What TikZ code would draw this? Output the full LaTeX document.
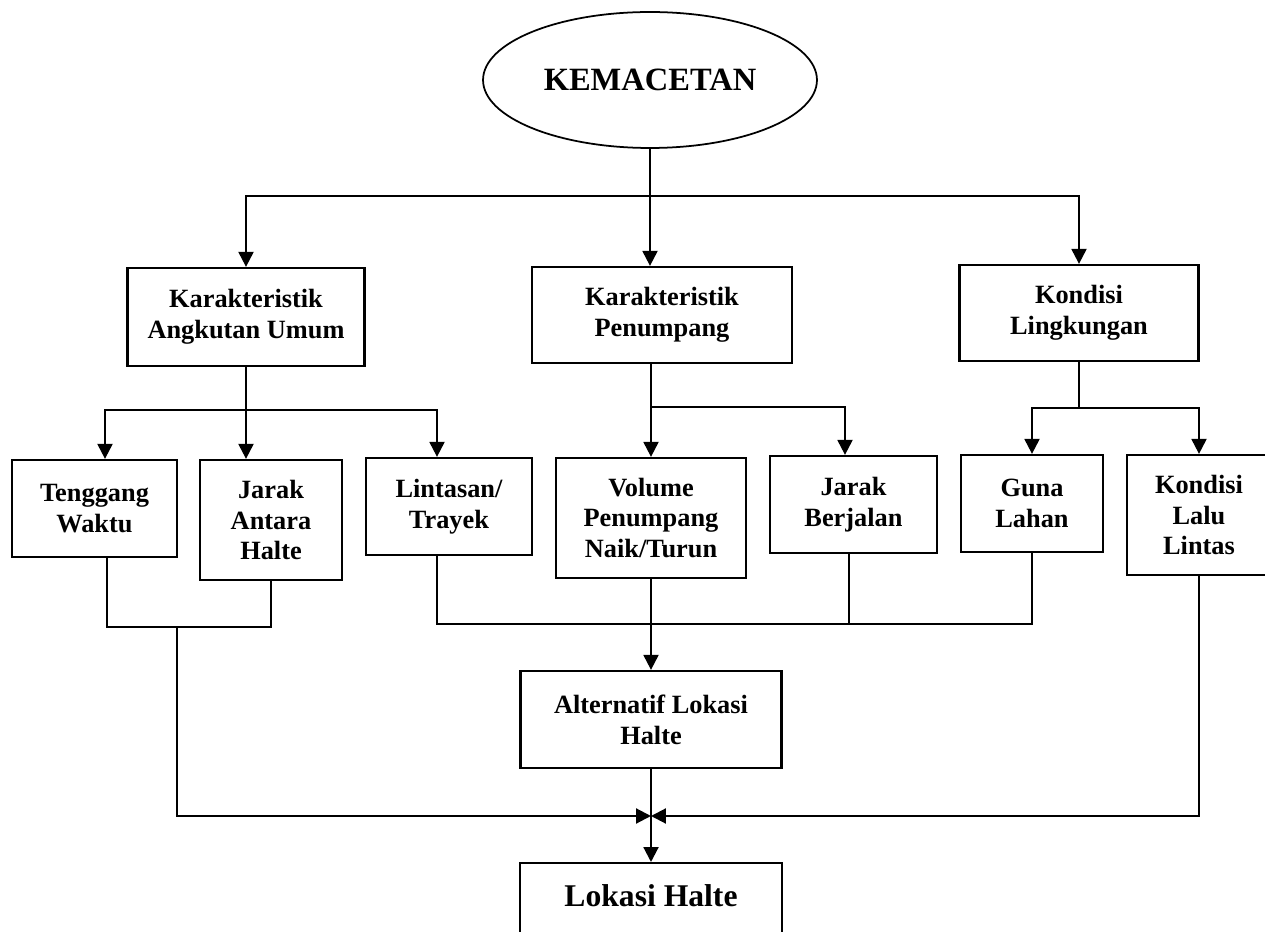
\documentclass[tikz,border=0pt]{standalone}
\usepackage{fontspec}
\setmainfont{Liberation Serif}
\usetikzlibrary{arrows.meta,shapes.geometric}
\begin{document}
\begin{tikzpicture}[x=0.02cm,y=-0.02cm,
  box/.style={draw,line width=1.3pt,align=center,font=\fontsize{15}{17.5}\selectfont\bfseries,inner sep=0pt},
  conn/.style={line width=1.2pt},
  arr/.style={conn,-{Triangle[length=8.5pt,width=8.5pt]}}]
\useasboundingbox (0,0) rectangle (1265,932);
\node[ellipse,draw,line width=1pt,minimum width=6.68cm,minimum height=2.72cm,inner sep=0pt,font=\fontsize{18.5}{22}\selectfont\bfseries] (ell) at (650,80) {KEMACETAN};
\node[box,minimum width=4.74cm,minimum height=1.96cm] (k1) at (246,317) {Karakteristik\\Angkutan Umum};
\node[box,minimum width=5.2cm,minimum height=1.92cm] (k2) at (662,315) {Karakteristik\\Penumpang};
\node[box,minimum width=4.78cm,minimum height=1.92cm] (k3) at (1079,313) {Kondisi\\Lingkungan};
\node[box,minimum width=3.3cm,minimum height=1.94cm] (tw) at (94.5,508.5) {Tenggang\\Waktu};
\node[box,minimum width=2.84cm,minimum height=2.4cm] (jah) at (271,520) {Jarak\\Antara\\Halte};
\node[box,minimum width=3.32cm,minimum height=1.94cm] (lt) at (449,506.5) {Lintasan/\\Trayek};
\node[box,minimum width=3.8cm,minimum height=2.4cm] (vol) at (651,518) {Volume\\Penumpang\\Naik/Turun};
\node[box,minimum width=3.34cm,minimum height=1.94cm] (jb) at (853.5,504.5) {Jarak\\Berjalan};
\node[box,minimum width=2.84cm,minimum height=1.94cm] (gl) at (1032,503.5) {Guna\\Lahan};
\node[box,minimum width=2.88cm,minimum height=2.4cm] (kll) at (1199,515) {Kondisi\\Lalu\\Lintas};
\node[box,minimum width=5.22cm,minimum height=1.94cm] (alt) at (651,719.5) {Alternatif Lokasi\\Halte};
\node[box,anchor=north,minimum width=5.24cm,text height=0.86cm,text depth=1.2cm,font=\fontsize{18}{22}\selectfont\bfseries] (lh) at (651,862) {Lokasi Halte};
% top level
\coordinate (j0) at (650,196);
\draw[arr] (ell.south) -- (ell.south |- k2.north);
\draw[arr] (j0) -| (k1.north);
\draw[arr] (j0) -| (k3.north);
% second level
\coordinate (j1) at (246,410);
\draw[conn] (k1.south) -- (j1);
\draw[arr] (j1) -| ([xshift=0.21cm]tw.north);
\draw[arr] (j1) -- (j1 |- jah.north);
\draw[arr] (j1) -| ([xshift=-0.24cm]lt.north);
\coordinate (j2) at (651,407);
\draw[arr] (k2.south -| j2) -- (vol.north);
\draw[arr] (j2) -| ([xshift=-0.17cm]jb.north);
\coordinate (j3) at (1079,408);
\draw[conn] (k3.south) -- (j3);
\draw[arr] (j3) -| (gl.north);
\draw[arr] (j3) -| (kll.north);
% bottom
\coordinate (m1) at (177,627);
\coordinate (jx) at (651,816);
\coordinate (m2) at (651,624);
\draw[conn] ([xshift=0.25cm]tw.south) |- (jah.south |- m1) -- (jah.south);
\draw[arr] (m1) |- (jx);
\draw[conn] ([xshift=-0.24cm]lt.south) |- (gl.south |- m2) -- (gl.south);
\draw[conn] ([xshift=-0.09cm]jb.south) -- ([xshift=-0.09cm]jb.south |- m2);
\draw[arr] (vol.south) -- (alt.north);
\draw[arr] (alt.south) -- (lh.north);
\draw[arr] (kll.south) |- (jx);
\end{tikzpicture}
\end{document}
